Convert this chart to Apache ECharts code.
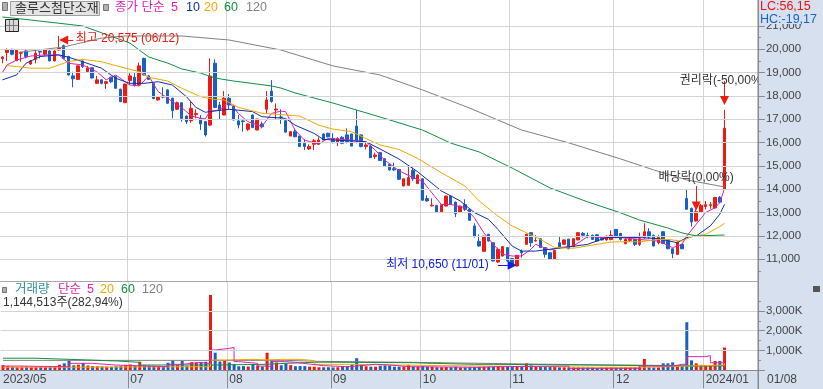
<!DOCTYPE html>
<html><head><meta charset="utf-8">
<style>html,body{margin:0;padding:0;background:#fff}#c{width:823px;height:389px}</style>
<script src="https://cdn.jsdelivr.net/npm/echarts@6/dist/echarts.min.js"></script>
</head><body><div id="c"></div>
<script>
const stockName='솔루스첨단소재';
const tradingDays=[
 ['2023/05',[23,24,25,26,30,31]],
 ['2023/06',[1,2,5,7,8,9,12,13,14,15,16,19,20,21,22,23,26,27,28,29,30]],
 ['2023/07',[3,4,5,6,7,10,11,12,13,14,17,18,19,20,21,24,25,26,27,28,31]],
 ['2023/08',[1,2,3,4,7,8,9,10,11,14,16,17,18,21,22,23,24,25,28,29,30,31]],
 ['2023/09',[1,4,5,6,7,8,11,12,13,14,15,18,19,20,21,22,25,26,27]],
 ['2023/10',[4,5,6,10,11,12,13,16,17,18,19,20,23,24,25,26,27,30,31]],
 ['2023/11',[1,2,3,6,7,8,9,10,13,14,15,16,17,20,21,22,23,24,27,28,29,30]],
 ['2023/12',[1,4,5,6,7,8,11,12,13,14,15,18,19,20,21,22,26,27,28]],
 ['2024/01',[2,3,4,5,8]]
];
const monthTicks={'2023/05/23':'2023/05','2023/07/03':'07','2023/08/01':'08','2023/09/01':'09','2023/10/04':'10','2023/11/01':'11','2023/12/01':'12','2024/01/02':'2024/01'};
const lastDateLabel='01/08';
const priceMajor=[11000,12000,13000,14000,15000,16000,17000,18000,19000,20000,21000];
const priceMinor=[10500,11500,12500,13500,14500,15500,16500,17500,18500,19500,20500];
const volMajor=[0,1000,2000,3000];
const volMinor=[500,1500,2500,3500];
// [open, close, low, high]
const candles=[
[19600,19670,19400,19710],[19860,19970,19500,20040],[20000,19790,19740,20020],[19510,19970,19500,20000],[19830,19870,19470,19900],
[19930,19690,19610,19970],[19370,19500,19330,19540],[19570,19830,19400,19970],[19910,19880,19610,19930],[19790,19970,19710,20000],
[19930,19500,19490,19960],[19500,19930,19490,19950],[19970,20040,19940,20575],[20160,19610,19580,20200],[19690,18900,18880,19720],
[18860,18740,18370,19040],[18710,19290,18700,19300],[19500,19260,19200,19520],[19040,19190,19000,19290],[19210,18770,18740,19240],
[18540,18690,18510,18860],[18690,18540,18500,18710],[18540,18610,18300,18650],[18800,18610,18550,18830],[18830,18330,18300,18860],
[18290,17760,17730,18310],[17710,18510,17700,18530],[18660,18860,18470,18970],[18800,18470,18400,19000],[18470,19290,18430,19430],
[19610,18900,18880,19640],[18860,18710,18680,18900],[18540,17890,17860,18570],[17830,17940,17800,17960],[17990,17950,17900,18370],
[18260,17690,17660,18290],[17900,17370,17040,17930],[17430,17710,17400,17760],[17710,17040,16900,17740],[17140,16900,16800,17160],
[16940,17470,16850,17750],[17200,17250,17040,17430],[17040,16800,16540,17180],[16900,16330,16260,16930],[16750,18855,16710,19610],
[19400,17510,17470,19570],[17610,17400,16970,17750],[17180,17900,17180,18210],[17900,17610,17400,18080],[17570,16970,16960,17600],
[16930,16760,16610,17180],[16930,16900,16470,17000],[16570,16800,16500,16830],[17180,16650,16620,17210],[16540,17010,16530,17020],
[16800,16680,16610,16900],[17430,17830,17230,18210],[18210,17760,17710,18680],[17400,17440,16970,17680],[17100,17080,16800,17430],
[16940,16450,16420,16970],[16280,16470,16280,16490],[16470,16250,16230,16570],[16280,15830,15830,16300],[15970,15830,15680,16140],
[15730,15830,15680,15930],[15930,16080,15680,16150],[15930,16110,15900,16230],[16370,16110,16100,16400],[16400,16250,16230,16420],
[16180,16000,15970,16400],[16000,16180,15850,16230],[16230,15970,15930,16280],[16330,16040,15970,16610],[16370,15850,15850,16380],
[16710,16080,15970,17400],[16330,15830,15800,16350],[15830,15900,15710,16000],[15850,15350,15350,15900],[15400,15470,15300,15570],
[15570,15230,15220,15590],[15310,15000,14990,15330],[15070,14830,14800,15100],[14880,14830,14780,15140],[14850,14430,14400,14870],
[14140,14450,14130,14470],[14170,14500,14170,15000],[14810,14450,14360,14930],[14240,14610,14230,14640],[14450,13530,13510,14470],
[13600,13500,13470,13740],[13290,13320,13260,13610],[13310,13000,12990,13330],[13000,13340,12990,13360],[13280,13710,13270,13730],
[13710,13370,13350,13730],[13450,12950,12810,13470],[13030,13280,13010,13300],[13340,13140,13070,13570],[13140,12670,12650,13160],
[12430,11970,11930,12540],[11770,11570,11540,12070],[11340,11990,11330,12010],[12070,11780,11760,12090],[11710,10930,10900,11730],
[10880,11430,10850,11500],[11140,11540,11120,11560],[11500,10930,10900,11520],[11030,10700,10650,11060],[10710,11170,10700,11190],
[11340,11280,11070,11420],[11640,12070,11630,12100],[12140,11710,11540,12170],[11780,11810,11760,12030],[11880,11500,11480,11900],
[11500,11210,11070,11520],[11280,11000,10970,11300],[11000,11380,10990,11400],[11710,11500,11450,11970],[11640,11830,11620,11850],
[11860,11450,11430,11880],[11540,11880,11520,11900],[11830,12140,11810,12160],[12110,12030,11930,12170],[12020,11990,11900,12140],
[12030,11850,11830,12050],[12050,11780,11770,12080],[11970,11830,11810,12000],[11830,11990,11800,12020],[11850,12030,11810,12240],
[12280,11930,11920,12300],[12110,11850,11800,12130],[11670,11850,11640,11930],[11810,11850,11740,11970],[11850,11640,11570,11880],
[11640,11880,11570,12140],[11930,12180,11880,12540],[12180,11950,11880,12330],[12030,11570,11550,12050],[11710,11940,11640,12030],
[12180,11680,11660,12200],[11810,11450,11430,11830],[11450,11240,11050,11470],[11210,11740,11190,11760],[11640,11450,11430,11660],
[13610,13140,13130,14000],[13180,12600,12400,13220],[12640,13040,12610,13150],[13040,13310,13030,13370],[13260,13340,13140,13500],
[13310,13340,13170,13450],[13200,13650,13180,13670],[13650,13450,13400,13710],[14010,16620,14000,17400]
];
const volumes=[250,200,170,150,170,170,150,150,170,150,150,170,270,340,480,240,270,360,230,200,190,180,170,160,190,200,260,280,210,420,230,220,210,190,170,370,480,250,460,220,400,370,400,420,3820,880,430,480,380,300,190,200,180,300,230,170,880,480,380,240,340,250,190,200,200,170,170,140,140,140,130,140,170,190,300,600,260,190,170,170,220,240,230,170,170,170,260,170,170,210,170,170,140,140,150,140,170,130,130,140,150,170,170,170,170,170,170,170,160,170,180,340,230,170,170,170,170,170,140,140,130,130,130,130,130,130,100,130,130,140,130,130,130,140,140,170,560,140,130,130,340,340,390,250,200,2430,490,340,260,210,210,460,460,1144];
const ma5=[[0,19000],[1,19330],[3,19540],[6,19710],[9,19760],[12,19760],[14,19400],[17,19330],[20,19040],[22,18690],[24,18900],[27,18470],[29,18430],[31,18860],[33,18190],[36,17760],[38,17500],[40,17150],[42,17040],[43,17020],[44,17350],[46,17400],[48,17750],[50,17250],[52,16900],[55,16690],[57,17250],[59,17350],[60,17330],[62,16540],[64,16110],[67,15940],[69,16180],[74,16110],[77,16040],[79,15680],[81,15250],[84,14800],[87,14500],[89,14350],[91,13850],[93,13350],[95,13350],[98,13210],[100,12780],[102,12140],[104,11640],[106,11210],[108,11140],[110,11140],[112,11430],[113,11640],[116,11400],[118,11500],[121,11570],[124,11970],[128,11930],[131,11930],[135,11850],[139,11780],[142,11500],[144,11640],[145,12000],[147,12500],[149,13000],[151,13210],[152,13430],[153,14030]];
const ma10=[[0,18690],[3,18900],[5,19400],[8,19690],[12,19760],[14,19660],[17,19470],[21,19190],[24,18760],[27,18540],[30,18540],[33,18610],[36,18470],[39,17970],[41,17510],[43,17300],[44,17330],[48,17430],[53,17330],[55,17110],[60,17040],[62,16750],[66,16400],[68,16140],[73,16080],[77,16040],[80,15730],[84,15300],[88,14750],[93,13930],[97,13500],[100,13000],[103,12710],[105,12280],[108,11570],[110,11350],[113,11350],[116,11430],[119,11500],[124,11640],[128,11930],[131,11940],[135,11930],[139,11880],[143,11710],[145,11930],[147,12000],[150,12430],[152,12930],[153,13350]];
const ma20=[[1,19300],[3,19260],[6,19190],[10,19190],[14,19470],[17,19570],[21,19470],[24,19300],[29,19040],[31,18800],[35,18640],[38,18330],[42,17970],[45,17850],[47,17830],[50,17510],[55,17260],[63,17140],[67,16750],[70,16580],[74,16470],[77,16180],[80,15900],[84,15710],[88,15320],[93,14710],[98,14140],[101,13500],[105,12850],[108,12430],[111,12140],[114,11850],[117,11500],[121,11470],[125,11610],[129,11740],[131,11750],[135,11750],[139,11850],[141,11850],[144,11780],[146,11970],[149,12070],[152,12400],[153,12540]];
const ma60=[[0,21385],[6,21256],[17,21000],[27,20270],[31,19670],[35,19410],[38,19160],[42,18980],[45,18770],[49,18640],[57,18430],[59,18340],[62,18130],[70,17700],[75,17400],[80,17100],[89,16540],[95,15980],[101,15600],[108,14910],[116,14060],[124,13460],[131,12990],[135,12680],[141,12340],[144,12130],[147,12000],[153,12040]];
const ma120=[[4,19880],[13,20100],[21,20480],[26,20570],[38,20570],[48,20400],[59,19970],[70,19290],[80,18900],[89,18260],[99,17480],[110,16540],[120,15990],[131,15300],[138,14830],[145,14400],[153,14100]];
const volMa5=[[0,200],[4,170],[12,170],[14,340],[17,340],[19,250],[24,170],[35,290],[38,390],[42,340],[43,340],[44,1020],[45,1100],[48,1150],[49,425],[50,340],[54,200],[56,170],[57,425],[60,390],[62,300],[65,220],[68,170],[73,200],[75,290],[79,255],[82,170],[86,136],[101,170],[105,200],[120,85],[135,200],[142,290],[144,290],[145,680],[149,730],[150,370],[153,425]];
const volMa20=[[0,140],[14,170],[44,510],[47,540],[53,510],[56,540],[59,540],[63,480],[66,290],[73,220],[94,170],[116,140],[125,136],[136,200],[145,255],[153,340]];
const volMa60=[[0,600],[7,510],[18,460],[24,390],[29,255],[45,290],[56,340],[60,400],[67,370],[87,340],[91,290],[100,290],[104,240],[130,200],[145,210],[153,255]];
const volMa120=[[0,490],[45,490],[60,440],[67,390],[87,290],[116,220],[145,220],[153,255]];

const FONT="'Liberation Sans','Noto Sans CJK KR',sans-serif";
const RED='#ee1a10',BLUE='#1860c8',PINK='#e020b0',NAVY='#1030a8',ORANGE='#f0a800',GREEN='#109040',GREY='#808080',GRIDC='#d3d3d3',AXC='#8a8a8a',TXT='#444444',PANEL='#d6e0ef';
const dates=[];tradingDays.forEach(m=>m[1].forEach(d=>dates.push(m[0]+'/'+String(d).padStart(2,'0'))));
const categories=dates.concat(['+1','+2','+3','+4','+5','+6','+7']);
const isTick=(i,v)=>v in monthTicks&&i>0;
const isLabel=(i,v)=>v in monthTicks;
const maLine=(name,data,color,xi,yi,step)=>({name,type:'line',data,xAxisIndex:xi,yAxisIndex:yi,showSymbol:false,silent:true,animation:false,step:step||false,lineStyle:{color,width:1},itemStyle:{color},z:4});
const gridSeries=(name,vals,yi,xi)=>({name,type:'line',data:vals.map(v=>[0,v]),xAxisIndex:xi,yAxisIndex:yi,z:1,silent:true,showSymbol:false,lineStyle:{opacity:0},
  markLine:{silent:true,symbol:'none',animation:false,label:{show:false},lineStyle:{color:GRIDC,width:1,type:'solid'},data:vals.map(v=>({yAxis:v}))}});
const pointLabel=(coord,text,color,position,distance)=>({coord,symbol:'circle',symbolSize:1,itemStyle:{color:'rgba(0,0,0,0)'},label:{show:true,formatter:text,color,position,distance,fontFamily:FONT,fontSize:12}});
const arrow=(a,b,col)=>[{coord:a,lineStyle:{color:col,width:1,type:'solid'}},{coord:b}];
const text=(x,y,t,fill,size)=>({type:'text',z:20,x,y,style:{text:t,fill,font:(size||12)+'px '+FONT,textVerticalAlign:'middle'}});
const rect=(x,y,w,h,fill,z,stroke)=>({type:'rect',z:z,shape:{x,y,width:w,height:h},style:{fill,stroke:stroke||null,lineWidth:1}});
const hl=(x1,y1,x2,y2,col)=>({type:'line',z:20,shape:{x1,y1,x2,y2},style:{stroke:col,lineWidth:1}});

const graphic=[
 rect(758,0,65,389,PANEL,6),rect(0,371,758,18,PANEL,-1),rect(759,0,64,24,PANEL,8),
 rect(0,281,758,1,'#a8a8a8',20),rect(757.5,0,1.5,389,AXC,20),
 rect(2.5,2.5,5,8,'#b0b0b0',20,'#777'),rect(10.5,1.5,89,14,'#e4e4e4',20,'#a0a0a0'),rect(103.5,4.5,5,6,'#b0b0b0',20,'#777'),
 text(15,8.5,stockName,'#333',13),
 text(115,8,'종가 단순',PINK,12.5),text(171,8,'5',PINK,12.5),text(186,8,'10',NAVY,12.5),text(204,8,'20',ORANGE,12.5),text(224,8,'60',GREEN,12.5),text(246,8,'120',GREY,12.5),
 rect(5.5,19.5,13,12,'#d8d8d8',20,'#222'),hl(9.5,20,9.5,31,'#777'),hl(13.5,20,13.5,31,'#777'),hl(6,25.5,18,25.5,'#777'),
 rect(2.5,287.5,4,5,'#b0b0b0',20,'#777'),
 text(15,290,'거래량','#2f9090',12.5),text(58,290,'단순',PINK,12.5),text(87,290,'5',PINK,12.5),text(100,290,'20',ORANGE,12.5),text(121,290,'60',GREEN,12.5),text(142,290,'120',GREY,12.5),
 text(3,303,'1,144,513주(282,94%)','#333',12),
 text(760,7,'LC:56,15','#f01010',12.5),text(760,20,'HC:-19,17','#1860d8',12.5),
 text(767,380,lastDateLabel,TXT,12),
 rect(813,286,7,6,'#555',20),
];

const chart=echarts.init(document.getElementById('c'),null,{renderer:'canvas'});
chart.setOption({
 animation:false,backgroundColor:'#fff',graphic,
 grid:[{left:0,top:0,width:759.9,height:282.6},{left:0,top:282,width:759.9,height:88}],
 xAxis:[
  {type:'category',gridIndex:0,data:categories,boundaryGap:true,axisLine:{show:false},axisTick:{show:false},axisLabel:{show:false},
   splitLine:{show:true,interval:isTick,lineStyle:{color:GRIDC,width:1}}},
  {type:'category',gridIndex:1,data:categories,boundaryGap:true,axisLine:{show:true,lineStyle:{color:AXC,width:1}},
   axisTick:{show:true,interval:isTick,length:18,lineStyle:{color:AXC,width:1}},
   axisLabel:{show:true,interval:isLabel,hideOverlap:false,align:'left',margin:4,color:TXT,fontFamily:FONT,fontSize:12,formatter:v=>monthTicks[v]||''},
   splitLine:{show:true,interval:isTick,lineStyle:{color:GRIDC,width:1}}}
 ],
 yAxis:[
  {type:'value',gridIndex:0,z:7,position:'right',offset:-2,min:10000,max:22113,scale:true,splitLine:{show:false},
   axisLine:{show:true,lineStyle:{color:AXC}},axisTick:{show:true,customValues:priceMajor,length:7,lineStyle:{color:AXC}},
   axisLabel:{show:true,customValues:priceMajor,margin:8,color:TXT,fontFamily:FONT,fontSize:11.5,formatter:v=>v.toLocaleString('en-US')}},
  {type:'value',gridIndex:0,z:7,position:'right',offset:-2,min:10000,max:22113,splitLine:{show:false},axisLine:{show:false},axisLabel:{show:false},
   axisTick:{show:true,customValues:priceMinor,length:3,lineStyle:{color:AXC}}},
  {type:'value',gridIndex:1,z:7,position:'right',offset:-2,min:0,max:4478,splitLine:{show:false},
   axisLine:{show:true,lineStyle:{color:AXC}},axisTick:{show:true,customValues:volMajor,length:7,lineStyle:{color:AXC}},
   axisLabel:{show:true,customValues:volMajor.slice(1),margin:8,color:TXT,fontFamily:FONT,fontSize:11.5,formatter:v=>v.toLocaleString('en-US')+'K'}},
  {type:'value',gridIndex:1,z:7,position:'right',offset:-2,min:0,max:4478,splitLine:{show:false},axisLine:{show:false},axisLabel:{show:false},
   axisTick:{show:true,customValues:volMinor,length:3,lineStyle:{color:AXC}}}
 ],
 series:[
  gridSeries('priceGrid',priceMajor,0,0),
  gridSeries('volGrid',volMajor.slice(1),2,1),
  {name:'candle',type:'candlestick',data:candles,xAxisIndex:0,yAxisIndex:0,barWidth:3,z:3,silent:true,clip:false,
   itemStyle:{color:RED,color0:BLUE,borderColor:RED,borderColor0:BLUE,borderColorDoji:RED,borderWidth:1},
   markLine:{silent:true,animation:false,symbol:['none','triangle'],symbolSize:9,label:{show:false},precision:0,
    data:[
     arrow([15,20400],[13,20400],RED),
     arrow([105,10740],[108,10740],'#1020e0'),
     arrow([147,14140],[147,13280],RED),
     arrow([153,18640],[153,17800],RED)
    ]},
   markPoint:{silent:true,animation:false,data:[
     pointLabel([15,20441],'최고 20,575 (06/12)',RED,'right',2),
     pointLabel([104,10755],'최저 10,650 (11/01)','#1020e0','left',4),
     pointLabel([147,14484],'배당락(0,00%)','#333','inside',0),
     pointLabel([143,18640],'권리락(-50,00%)','#333','right',2)
   ]}},
  maLine('MA5',ma5,PINK,0,0),maLine('MA10',ma10,NAVY,0,0),maLine('MA20',ma20,ORANGE,0,0),maLine('MA60',ma60,GREEN,0,0),maLine('MA120',ma120,GREY,0,0),
  {name:'volume',type:'bar',xAxisIndex:1,yAxisIndex:2,barWidth:3,silent:true,z:3,
   data:volumes.map((v,i)=>({value:v,itemStyle:{color:candles[i][1]>=candles[i][0]?RED:BLUE}}))},
  maLine('vMA120',volMa120,GREY,1,2,'end'),maLine('vMA60',volMa60,GREEN,1,2,'end'),maLine('vMA20',volMa20,ORANGE,1,2,'end'),maLine('vMA5',volMa5,PINK,1,2,'end')
 ]
});
</script></body></html>
